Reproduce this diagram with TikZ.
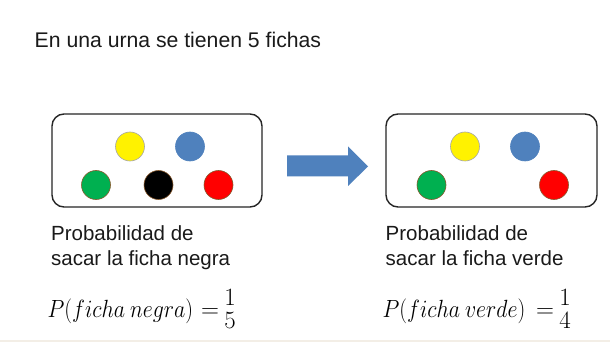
\documentclass[tikz,border=0pt]{standalone}
\usepackage{fontspec}
\setmainfont{Liberation Sans}
\definecolor{txt}{HTML}{1A1A1A}
\definecolor{bluef}{HTML}{4F81BD}
\definecolor{greenf}{HTML}{00B050}
\definecolor{faint}{HTML}{F3EEE6}
\tikzset{
  urn/.style={draw=black!85, line width=1.4pt, rounded corners=12pt},
  ficha/.style={circle, minimum size=29pt, inner sep=0pt, line width=0.6pt},
  body/.style={anchor=base west, inner sep=0pt, text=txt, font=\fontsize{20.5}{24}\selectfont},
  formula/.style={anchor=base west, inner sep=0pt, text=black, xscale=0.88, transform shape, font=\fontsize{23.5}{28}\selectfont},
  eqsign/.style={anchor=base, inner sep=0pt, text=black, font=\fontsize{23}{28}\selectfont},
  digit/.style={anchor=base, inner sep=0pt, text=black, font=\fontsize{24}{28}\selectfont},
}
\begin{document}
\begin{tikzpicture}[x=1pt,y=-1pt]
\useasboundingbox (0,0) rectangle (610,358);
\fill[white] (0,0) rectangle (610,358);
\draw[faint, line width=1.5pt] (0,341) -- (610,341);
\node[anchor=base west, inner sep=0pt, text=txt, font=\fontsize{21.2}{25}\selectfont] (title) at (34.5,47.7) {En una urna se tienen 5 fichas};
% left urn
\draw[urn] (52,114) rectangle (262,207);
\node[ficha, fill=yellow, draw=black!35] (y1) at (130,146.5) {};
\node[ficha, fill=bluef, draw=bluef] (b1) at (190,146.5) {};
\node[ficha, fill=greenf, draw=brown!70!black] (g1) at (96,185) {};
\node[ficha, fill=black, draw=brown!70!black] (k1) at (158.5,185) {};
\node[ficha, fill=red, draw=brown!70!black] (r1) at (218.5,185) {};
% arrow
\fill[bluef] (287,155.5) -- (348,155.5) -- (348,146.5) -- (368,166.5) -- (348,186) -- (348,176.5) -- (287,176.5) -- cycle;
% right urn
\draw[urn] (386,114) rectangle (597,207);
\node[ficha, fill=yellow, draw=black!35] (y2) at (465,146.5) {};
\node[ficha, fill=bluef, draw=bluef] (b2) at (525,146.5) {};
\node[ficha, fill=greenf, draw=brown!70!black] (g2) at (431.5,185) {};
\node[ficha, fill=red, draw=brown!70!black] (r2) at (554,185) {};
% texts
\node[body] (l1) at (51,240.5) {Probabilidad de};
\node[body] (l2) at (51,265) {sacar la ficha negra};
\node[body] (r1t) at (385.5,240.5) {Probabilidad de};
\node[body] (r2t) at (385.5,265) {sacar la ficha verde};
% formulas
\node[formula] (f1) at (47.5,317.7) {$P(ficha\:negra)$};
\node[eqsign] (e1) at (210,317.7) {$=$};
\node[digit] (n1) at (230,305) {$1$};
\node[digit] (d1) at (230,328) {$5$};
\node[formula] (f2) at (382.5,317.7) {$P(ficha\:verde)$};
\node[eqsign] (e2) at (545,317.7) {$=$};
\node[digit] (n2) at (565,305) {$1$};
\node[digit] (d2) at (565,328) {$4$};
\end{tikzpicture}
\end{document}
